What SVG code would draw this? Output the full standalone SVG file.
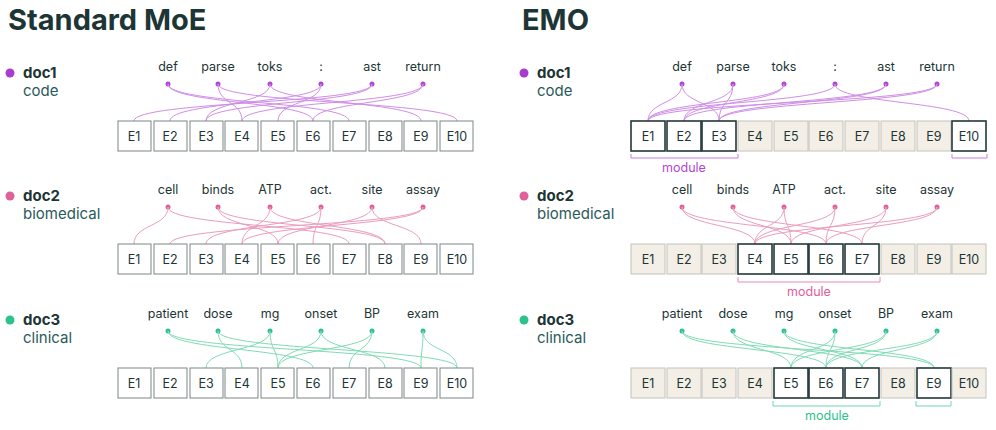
<svg xmlns="http://www.w3.org/2000/svg" width="996" height="430" viewBox="0 0 996 430">
<style>
text{font-family:Inter,"Liberation Sans",sans-serif;fill:#1d3535}
.title{font-size:29px;font-weight:700}
.doc{font-size:15px;font-weight:700}
.sub{font-size:15px;fill:#2a5a5a}
.tok{font-size:12.5px;text-anchor:middle}
.bl{font-size:12.5px;text-anchor:middle;dominant-baseline:central}
.b{fill:#fff;stroke:#7d8585;stroke-width:1}
.on{fill:#fff;stroke:#243838;stroke-width:1.6}
.off{fill:#f3efe6;stroke:#c2c2bc;stroke-width:1}
.c1{fill:none;stroke:#cf8ee6;stroke-width:1}
.c2{fill:none;stroke:#eb9cbd;stroke-width:1}
.c3{fill:none;stroke:#7fdcb6;stroke-width:1}
.br{fill:none;stroke-width:1}
.m{font-size:12.5px;text-anchor:middle}
</style>
<text class="title" x="8" y="30">Standard MoE</text>
<text class="title" x="522" y="30">EMO</text>

<g id="left-doc1">
<circle cx="10" cy="73" r="4.5" fill="#a83ccf"/><text class="doc" x="23" y="78">doc1</text><text class="sub" x="23" y="96">code</text>
<text class="tok" x="168" y="71">def</text><text class="tok" x="218" y="71">parse</text><text class="tok" x="270" y="71">toks</text><text class="tok" x="321" y="71">:</text><text class="tok" x="372" y="71">ast</text><text class="tok" x="423" y="71">return</text>
<g fill="#b146d6"><circle cx="168" cy="84" r="2.5"/><circle cx="218" cy="84" r="2.5"/><circle cx="270" cy="84" r="2.5"/><circle cx="321" cy="84" r="2.5"/><circle cx="372" cy="84" r="2.5"/><circle cx="423" cy="84" r="2.5"/></g>
</g>
<g id="left-doc2">
<circle cx="10" cy="196" r="4.5" fill="#e0609a"/><text class="doc" x="23" y="201">doc2</text><text class="sub" x="23" y="219">biomedical</text>
<text class="tok" x="168" y="194">cell</text><text class="tok" x="218" y="194">binds</text><text class="tok" x="270" y="194">ATP</text><text class="tok" x="321" y="194">act.</text><text class="tok" x="372" y="194">site</text><text class="tok" x="423" y="194">assay</text>
<g fill="#e0609a"><circle cx="168" cy="207" r="2.5"/><circle cx="218" cy="207" r="2.5"/><circle cx="270" cy="207" r="2.5"/><circle cx="321" cy="207" r="2.5"/><circle cx="372" cy="207" r="2.5"/><circle cx="423" cy="207" r="2.5"/></g>
</g>
<g id="left-doc3">
<circle cx="10" cy="320" r="4.5" fill="#2cc28a"/><text class="doc" x="23" y="325">doc3</text><text class="sub" x="23" y="343">clinical</text>
<text class="tok" x="168" y="318">patient</text><text class="tok" x="218" y="318">dose</text><text class="tok" x="270" y="318">mg</text><text class="tok" x="321" y="318">onset</text><text class="tok" x="372" y="318">BP</text><text class="tok" x="423" y="318">exam</text>
<g fill="#2cc28a"><circle cx="168" cy="331" r="2.5"/><circle cx="218" cy="331" r="2.5"/><circle cx="270" cy="331" r="2.5"/><circle cx="321" cy="331" r="2.5"/><circle cx="372" cy="331" r="2.5"/><circle cx="423" cy="331" r="2.5"/></g>
</g>

<g id="right-doc1">
<circle cx="524" cy="73" r="4.5" fill="#a83ccf"/><text class="doc" x="537" y="78">doc1</text><text class="sub" x="537" y="96">code</text>
<text class="tok" x="682" y="71">def</text><text class="tok" x="733" y="71">parse</text><text class="tok" x="784" y="71">toks</text><text class="tok" x="835" y="71">:</text><text class="tok" x="886" y="71">ast</text><text class="tok" x="937" y="71">return</text>
<g fill="#b146d6"><circle cx="682" cy="84" r="2.5"/><circle cx="733" cy="84" r="2.5"/><circle cx="784" cy="84" r="2.5"/><circle cx="835" cy="84" r="2.5"/><circle cx="886" cy="84" r="2.5"/><circle cx="937" cy="84" r="2.5"/></g>
</g>
<g id="right-doc2">
<circle cx="524" cy="196" r="4.5" fill="#e0609a"/><text class="doc" x="537" y="201">doc2</text><text class="sub" x="537" y="219">biomedical</text>
<text class="tok" x="682" y="194">cell</text><text class="tok" x="733" y="194">binds</text><text class="tok" x="784" y="194">ATP</text><text class="tok" x="835" y="194">act.</text><text class="tok" x="886" y="194">site</text><text class="tok" x="937" y="194">assay</text>
<g fill="#e0609a"><circle cx="682" cy="207" r="2.5"/><circle cx="733" cy="207" r="2.5"/><circle cx="784" cy="207" r="2.5"/><circle cx="835" cy="207" r="2.5"/><circle cx="886" cy="207" r="2.5"/><circle cx="937" cy="207" r="2.5"/></g>
</g>
<g id="right-doc3">
<circle cx="524" cy="320" r="4.5" fill="#2cc28a"/><text class="doc" x="537" y="325">doc3</text><text class="sub" x="537" y="343">clinical</text>
<text class="tok" x="682" y="318">patient</text><text class="tok" x="733" y="318">dose</text><text class="tok" x="784" y="318">mg</text><text class="tok" x="835" y="318">onset</text><text class="tok" x="886" y="318">BP</text><text class="tok" x="937" y="318">exam</text>
<g fill="#2cc28a"><circle cx="682" cy="331" r="2.5"/><circle cx="733" cy="331" r="2.5"/><circle cx="784" cy="331" r="2.5"/><circle cx="835" cy="331" r="2.5"/><circle cx="886" cy="331" r="2.5"/><circle cx="937" cy="331" r="2.5"/></g>
</g>

<g id="connectors">
<!-- left row1 -->
<path class="c1" d="M168 84C168 104 313 101 313 121M168 84C168 104 349 101 349 121M218 84C218 104 242 101 242 121M218 84C218 104 457 101 457 121M270 84C270 104 206 101 206 121M270 84C270 104 421 101 421 121M321 84C321 104 170 101 170 121M321 84C321 104 278 101 278 121M372 84C372 104 134 101 134 121M372 84C372 104 206 101 206 121M423 84C423 104 242 101 242 121M423 84C423 104 313 101 313 121"/>
<!-- left row2 -->
<path class="c2" d="M168 207C168 227 134 224 134 244M168 207C168 227 349 224 349 244M218 207C218 227 278 224 278 244M218 207C218 227 385 224 385 244M270 207C270 227 242 224 242 244M270 207C270 227 385 224 385 244M321 207C321 227 206 224 206 244M321 207C321 227 313 224 313 244M372 207C372 227 278 224 278 244M372 207C372 227 421 224 421 244M423 207C423 227 170 224 170 244M423 207C423 227 242 224 242 244"/>
<!-- left row3 -->
<path class="c3" d="M168 331C168 351 313 348 313 368M168 331C168 351 421 348 421 368M218 331C218 351 242 348 242 368M218 331C218 351 457 348 457 368M270 331C270 351 206 348 206 368M270 331C270 351 278 348 278 368M321 331C321 351 278 348 278 368M321 331C321 351 385 348 385 368M372 331C372 351 278 348 278 368M372 331C372 351 349 348 349 368M423 331C423 351 421 348 421 368M423 331C423 351 457 348 457 368"/>
<!-- right row1 -->
<path class="c1" d="M682 84C682 104 648 101 648 121M682 84C682 104 719 101 719 121M733 84C733 104 684 101 684 121M733 84C733 104 719 101 719 121M784 84C784 104 648 101 648 121M784 84C784 104 684 101 684 121M835 84C835 104 648 101 648 121M835 84C835 104 969 101 969 121M886 84C886 104 684 101 684 121M886 84C886 104 719 101 719 121M937 84C937 104 648 101 648 121M937 84C937 104 719 101 719 121"/>
<!-- right row2 -->
<path class="c2" d="M682 207C682 227 755 224 755 244M682 207C682 227 826 224 826 244M733 207C733 227 791 224 791 244M733 207C733 227 862 224 862 244M784 207C784 227 755 224 755 244M784 207C784 227 791 224 791 244M835 207C835 227 826 224 826 244M835 207C835 227 755 224 755 244M886 207C886 227 791 224 791 244M886 207C886 227 862 224 862 244M937 207C937 227 826 224 826 244M937 207C937 227 755 224 755 244"/>
<!-- right row3 -->
<path class="c3" d="M682 331C682 351 826 348 826 368M682 331C682 351 934 348 934 368M733 331C733 351 791 348 791 368M733 331C733 351 862 348 862 368M784 331C784 351 862 348 862 368M784 331C784 351 934 348 934 368M835 331C835 351 791 348 791 368M835 331C835 351 826 348 826 368M886 331C886 351 791 348 791 368M886 331C886 351 826 348 826 368M937 331C937 351 826 348 826 368M937 331C937 351 862 348 862 368"/>
</g>

<g id="left-experts">
<g><rect class="b" x="118" y="121" width="33" height="30"/><rect class="b" x="154" y="121" width="33" height="30"/><rect class="b" x="190" y="121" width="33" height="30"/><rect class="b" x="225" y="121" width="33" height="30"/><rect class="b" x="261" y="121" width="33" height="30"/><rect class="b" x="297" y="121" width="33" height="30"/><rect class="b" x="333" y="121" width="33" height="30"/><rect class="b" x="369" y="121" width="33" height="30"/><rect class="b" x="404" y="121" width="33" height="30"/><rect class="b" x="440" y="121" width="33" height="30"/>
<text class="bl" x="134" y="136">E1</text><text class="bl" x="170" y="136">E2</text><text class="bl" x="206" y="136">E3</text><text class="bl" x="242" y="136">E4</text><text class="bl" x="278" y="136">E5</text><text class="bl" x="313" y="136">E6</text><text class="bl" x="349" y="136">E7</text><text class="bl" x="385" y="136">E8</text><text class="bl" x="421" y="136">E9</text><text class="bl" x="457" y="136">E10</text></g>
<g><rect class="b" x="118" y="244" width="33" height="30"/><rect class="b" x="154" y="244" width="33" height="30"/><rect class="b" x="190" y="244" width="33" height="30"/><rect class="b" x="225" y="244" width="33" height="30"/><rect class="b" x="261" y="244" width="33" height="30"/><rect class="b" x="297" y="244" width="33" height="30"/><rect class="b" x="333" y="244" width="33" height="30"/><rect class="b" x="369" y="244" width="33" height="30"/><rect class="b" x="404" y="244" width="33" height="30"/><rect class="b" x="440" y="244" width="33" height="30"/>
<text class="bl" x="134" y="259">E1</text><text class="bl" x="170" y="259">E2</text><text class="bl" x="206" y="259">E3</text><text class="bl" x="242" y="259">E4</text><text class="bl" x="278" y="259">E5</text><text class="bl" x="313" y="259">E6</text><text class="bl" x="349" y="259">E7</text><text class="bl" x="385" y="259">E8</text><text class="bl" x="421" y="259">E9</text><text class="bl" x="457" y="259">E10</text></g>
<g><rect class="b" x="118" y="368" width="33" height="30"/><rect class="b" x="154" y="368" width="33" height="30"/><rect class="b" x="190" y="368" width="33" height="30"/><rect class="b" x="225" y="368" width="33" height="30"/><rect class="b" x="261" y="368" width="33" height="30"/><rect class="b" x="297" y="368" width="33" height="30"/><rect class="b" x="333" y="368" width="33" height="30"/><rect class="b" x="369" y="368" width="33" height="30"/><rect class="b" x="404" y="368" width="33" height="30"/><rect class="b" x="440" y="368" width="33" height="30"/>
<text class="bl" x="134" y="383">E1</text><text class="bl" x="170" y="383">E2</text><text class="bl" x="206" y="383">E3</text><text class="bl" x="242" y="383">E4</text><text class="bl" x="278" y="383">E5</text><text class="bl" x="313" y="383">E6</text><text class="bl" x="349" y="383">E7</text><text class="bl" x="385" y="383">E8</text><text class="bl" x="421" y="383">E9</text><text class="bl" x="457" y="383">E10</text></g>
</g>

<g id="right-experts">
<g><rect class="on" x="631" y="121" width="34" height="30"/><rect class="on" x="667" y="121" width="34" height="30"/><rect class="on" x="702" y="121" width="34" height="30"/><rect class="off" x="738" y="121" width="34" height="30"/><rect class="off" x="774" y="121" width="34" height="30"/><rect class="off" x="809" y="121" width="34" height="30"/><rect class="off" x="845" y="121" width="34" height="30"/><rect class="off" x="881" y="121" width="34" height="30"/><rect class="off" x="917" y="121" width="34" height="30"/><rect class="on" x="952" y="121" width="34" height="30"/>
<text class="bl" x="648" y="136">E1</text><text class="bl" x="684" y="136">E2</text><text class="bl" x="719" y="136">E3</text><text class="bl" x="755" y="136">E4</text><text class="bl" x="791" y="136">E5</text><text class="bl" x="826" y="136">E6</text><text class="bl" x="862" y="136">E7</text><text class="bl" x="898" y="136">E8</text><text class="bl" x="934" y="136">E9</text><text class="bl" x="969" y="136">E10</text>
<path class="br" stroke="#c77ee0" d="M631 154V158H738V154M952 154V158H987V154"/><text class="m" x="684" y="172" fill="#b146d6" style="fill:#b146d6">module</text></g>
<g><rect class="off" x="631" y="244" width="34" height="30"/><rect class="off" x="667" y="244" width="34" height="30"/><rect class="off" x="702" y="244" width="34" height="30"/><rect class="on" x="738" y="244" width="34" height="30"/><rect class="on" x="774" y="244" width="34" height="30"/><rect class="on" x="809" y="244" width="34" height="30"/><rect class="on" x="845" y="244" width="34" height="30"/><rect class="off" x="881" y="244" width="34" height="30"/><rect class="off" x="917" y="244" width="34" height="30"/><rect class="off" x="952" y="244" width="34" height="30"/>
<text class="bl" x="648" y="259">E1</text><text class="bl" x="684" y="259">E2</text><text class="bl" x="719" y="259">E3</text><text class="bl" x="755" y="259">E4</text><text class="bl" x="791" y="259">E5</text><text class="bl" x="826" y="259">E6</text><text class="bl" x="862" y="259">E7</text><text class="bl" x="898" y="259">E8</text><text class="bl" x="934" y="259">E9</text><text class="bl" x="969" y="259">E10</text>
<path class="br" stroke="#e88ab3" d="M738 277V282H880V277"/><text class="m" x="809" y="296" style="fill:#e0609a">module</text></g>
<g><rect class="off" x="631" y="368" width="34" height="30"/><rect class="off" x="667" y="368" width="34" height="30"/><rect class="off" x="702" y="368" width="34" height="30"/><rect class="off" x="738" y="368" width="34" height="30"/><rect class="on" x="774" y="368" width="34" height="30"/><rect class="on" x="809" y="368" width="34" height="30"/><rect class="on" x="845" y="368" width="34" height="30"/><rect class="off" x="881" y="368" width="34" height="30"/><rect class="on" x="917" y="368" width="34" height="30"/><rect class="off" x="952" y="368" width="34" height="30"/>
<text class="bl" x="648" y="383">E1</text><text class="bl" x="684" y="383">E2</text><text class="bl" x="719" y="383">E3</text><text class="bl" x="755" y="383">E4</text><text class="bl" x="791" y="383">E5</text><text class="bl" x="826" y="383">E6</text><text class="bl" x="862" y="383">E7</text><text class="bl" x="898" y="383">E8</text><text class="bl" x="934" y="383">E9</text><text class="bl" x="969" y="383">E10</text>
<path class="br" stroke="#6fd6ab" d="M773 401V406H880V401M916 401V406H951V401"/><text class="m" x="827" y="420" style="fill:#2cc28a">module</text></g>
</g>
</svg>
